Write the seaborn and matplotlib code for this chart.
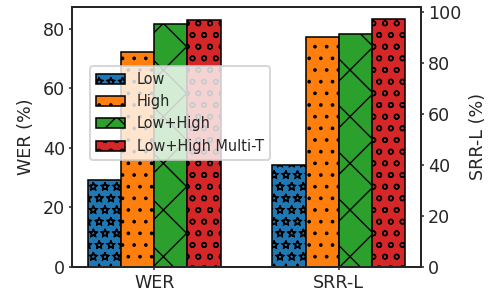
import pandas as pd
import seaborn as sns
import matplotlib.pyplot as plt
import matplotlib.hatch
from matplotlib.patches import Patch
from matplotlib.colors import to_hex

methods = ["Low", "High", "Low+High", "Low+High Multi-T"]
metrics = ["WER", "SRR-L"]
wer_values = [29.2, 72.3, 81.7, 83.1]
srr_values = [40.0, 90.0, 91.4, 97.0]
colors = ["#1f77b4", "#ff7f0e", "#2ca02c", "#d62728"]
hatches = ["**", "..", "x", "oo"]

wer_df = pd.DataFrame({"metric": "WER", "method": methods, "value": wer_values})
srr_df = pd.DataFrame({"metric": "SRR-L", "method": methods, "value": srr_values})

# outlined stars instead of solid ones
matplotlib.hatch.Stars.filled = False

sns.set_style("ticks")
plt.rcParams["font.size"] = 9
plt.rcParams["hatch.linewidth"] = 0.7
plt.rcParams["axes.linewidth"] = 1.0

dpi = 140
fig, ax1 = plt.subplots(figsize=(489 / dpi, 297 / dpi), dpi=dpi)
fig.subplots_adjust(left=0.147, right=0.861, top=0.976, bottom=0.102)
ax2 = ax1.twinx()

sns.barplot(data=wer_df, x="metric", y="value", hue="method", order=metrics,
            hue_order=methods, palette=colors, saturation=1, width=0.72,
            edgecolor="black", linewidth=0.8, legend=False, ax=ax1)
sns.barplot(data=srr_df, x="metric", y="value", hue="method", order=metrics,
            hue_order=methods, palette=colors, saturation=1, width=0.72,
            edgecolor="black", linewidth=0.8, legend=False, ax=ax2)

hatch_map = {to_hex(c): h for c, h in zip(colors, hatches)}
for ax in (ax1, ax2):
    for p in ax.patches:
        key = to_hex(p.get_facecolor())
        if key in hatch_map:
            p.set_hatch(hatch_map[key])

ax1.set_xlim(-0.446, 1.446)
ax1.set_ylim(0, 87.3)
ax2.set_ylim(0, 101.85)
ax1.set_yticks([0, 20, 40, 60, 80])
ax2.set_yticks([0, 20, 40, 60, 80, 100])
ax1.set_xlabel("")
ax2.set_xlabel("")
ax1.set_ylabel("WER (%)", fontsize=9)
ax2.set_ylabel("SRR-L (%)", fontsize=9)
for ax in (ax1, ax2):
    ax.tick_params(labelsize=9, length=1.6, width=0.8, pad=2)

handles = [Patch(facecolor=c, edgecolor="black", linewidth=0.8, hatch=h, label=m)
           for c, h, m in zip(colors, hatches, methods)]
ax1.legend(handles=handles, loc="upper left", bbox_to_anchor=(0.052, 0.773),
           borderaxespad=0, fontsize="small")

plt.savefig("out.png", dpi=dpi)
